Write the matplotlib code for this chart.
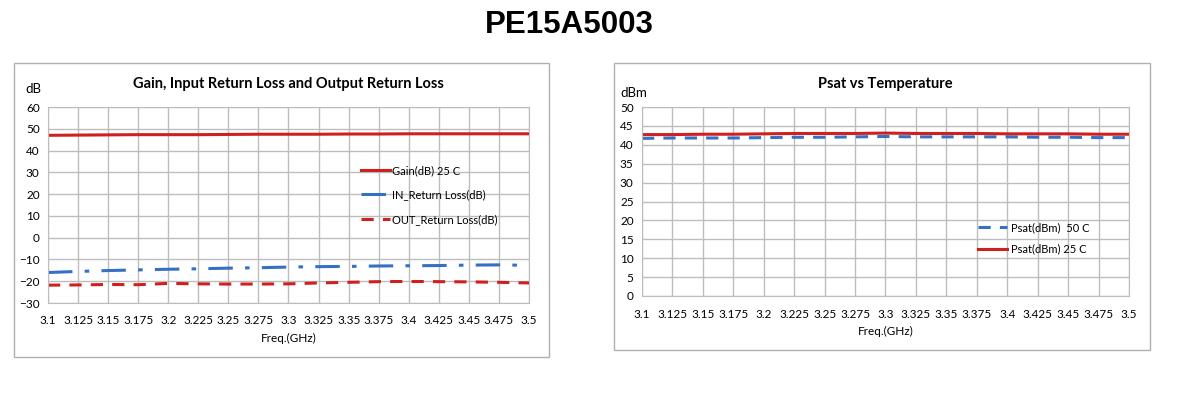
import matplotlib.pyplot as plt
from matplotlib.patches import Rectangle

# 周波数 (GHz)
freq = [3.1, 3.125, 3.15, 3.175, 3.2, 3.225, 3.25, 3.275, 3.3,
        3.325, 3.35, 3.375, 3.4, 3.425, 3.45, 3.475, 3.5]
freq_labels = ["3.1", "3.125", "3.15", "3.175", "3.2", "3.225", "3.25", "3.275", "3.3",
               "3.325", "3.35", "3.375", "3.4", "3.425", "3.45", "3.475", "3.5"]

# 左: Gain / 反射損失 (dB)
gain_25c = [47.0, 47.1, 47.2, 47.3, 47.3, 47.3, 47.4, 47.5, 47.5,
            47.5, 47.6, 47.6, 47.7, 47.7, 47.7, 47.7, 47.7]
in_rl = [-16.0, -15.5, -15.1, -14.8, -14.5, -14.3, -14.0, -13.8, -13.5,
         -13.3, -13.2, -13.0, -12.9, -12.8, -12.6, -12.5, -12.7]
out_rl = [-21.8, -21.7, -21.5, -21.6, -21.0, -21.2, -21.3, -21.3, -21.2,
          -20.8, -20.5, -20.2, -20.1, -20.2, -20.3, -20.5, -20.8]

# 右: Psat (dBm)
psat_50c = [41.7, 41.8, 41.8, 41.8, 41.9, 42.0, 42.0, 42.1, 42.2,
            42.1, 42.1, 42.1, 42.1, 42.0, 42.0, 41.9, 41.9]
psat_25c = [42.7, 42.7, 42.8, 42.8, 42.9, 43.0, 43.0, 43.0, 43.1,
            43.0, 43.0, 43.0, 42.9, 42.9, 42.9, 42.8, 42.8]

plt.rcParams['font.family'] = ['Lato', 'DejaVu Sans']

W, H = 1189, 398
fig = plt.figure(figsize=(W / 100, H / 100), dpi=100)

RED = '#d01f1f'
BLUE = '#3570c4'
GRID = '#bdbdbd'


def px(x0, y0, x1, y1):
    # ピクセル座標 -> figure座標 [left, bottom, width, height]
    return [x0 / W, 1 - y1 / H, (x1 - x0) / W, (y1 - y0) / H]


def frame(x0, y0, x1, y1):
    r = Rectangle((x0 / W, 1 - y1 / H), (x1 - x0) / W, (y1 - y0) / H,
                  transform=fig.transFigure, fill=False, edgecolor='#b0b0b0', lw=1.0)
    fig.patches.append(r)


def style(ax, yticks):
    ax.set_xlim(freq[0], freq[-1])
    ax.set_xticks(freq)
    ax.set_xticklabels(freq_labels)
    ax.set_yticks(yticks)
    ax.set_ylim(yticks[0], yticks[-1])
    ax.grid(True, color=GRID, lw=1.0)
    for s in ax.spines.values():
        s.set_color(GRID)
    ax.tick_params(length=0, labelsize=8.5, pad=9)
    ax.tick_params(axis='y', pad=6)
    ax.set_xlabel("Freq.(GHz)", fontsize=8.5, labelpad=5)


fig.text(0.479, 0.937, "PE15A5003", ha='center', va='center', fontsize=22.5,
         fontweight='bold', family='Liberation Sans')

# 左のグラフ
frame(14, 63, 549, 357)
ax1 = fig.add_axes(px(48, 107, 529, 303))
ax1.plot(freq, gain_25c, color=RED, lw=2.2, label="Gain(dB) 25 C")
ax1.plot(freq, in_rl, color=BLUE, lw=2.2, dashes=(8, 4, 1.5, 4), label="IN_Return Loss(dB)")
ax1.plot(freq, out_rl, color=RED, lw=2.2, dashes=(4, 3), label="OUT_Return Loss(dB)")
style(ax1, list(range(-30, 61, 10)))
ax1.set_title("Gain, Input Return Loss and Output Return Loss", fontsize=10.5,
              fontweight='bold', pad=14)
fig.text(25 / W, 1 - 89 / H, "dB", fontsize=9.5, va='center')
ax1.legend(loc='upper left', bbox_to_anchor=(0.63, 0.755), frameon=False,
           fontsize=8, handlelength=2.6, handletextpad=0.2, labelspacing=1.2)

# 右のグラフ
frame(614, 63, 1150, 350)
ax2 = fig.add_axes(px(642, 107, 1129, 296))
ax2.plot(freq, psat_50c, color=BLUE, lw=2.2, dashes=(4, 3), label="Psat(dBm)  50 C")
ax2.plot(freq, psat_25c, color=RED, lw=2.2, label="Psat(dBm) 25 C")
style(ax2, list(range(0, 51, 5)))
ax2.set_title("Psat vs Temperature", fontsize=10.5, fontweight='bold', pad=14)
fig.text(620 / W, 1 - 93 / H, "dBm", fontsize=9.5, va='center')
ax2.legend(loc='upper left', bbox_to_anchor=(0.67, 0.445), frameon=False,
           fontsize=8, handlelength=2.6, handletextpad=0.3, labelspacing=0.95)

fig.savefig("out.png", dpi=100)
